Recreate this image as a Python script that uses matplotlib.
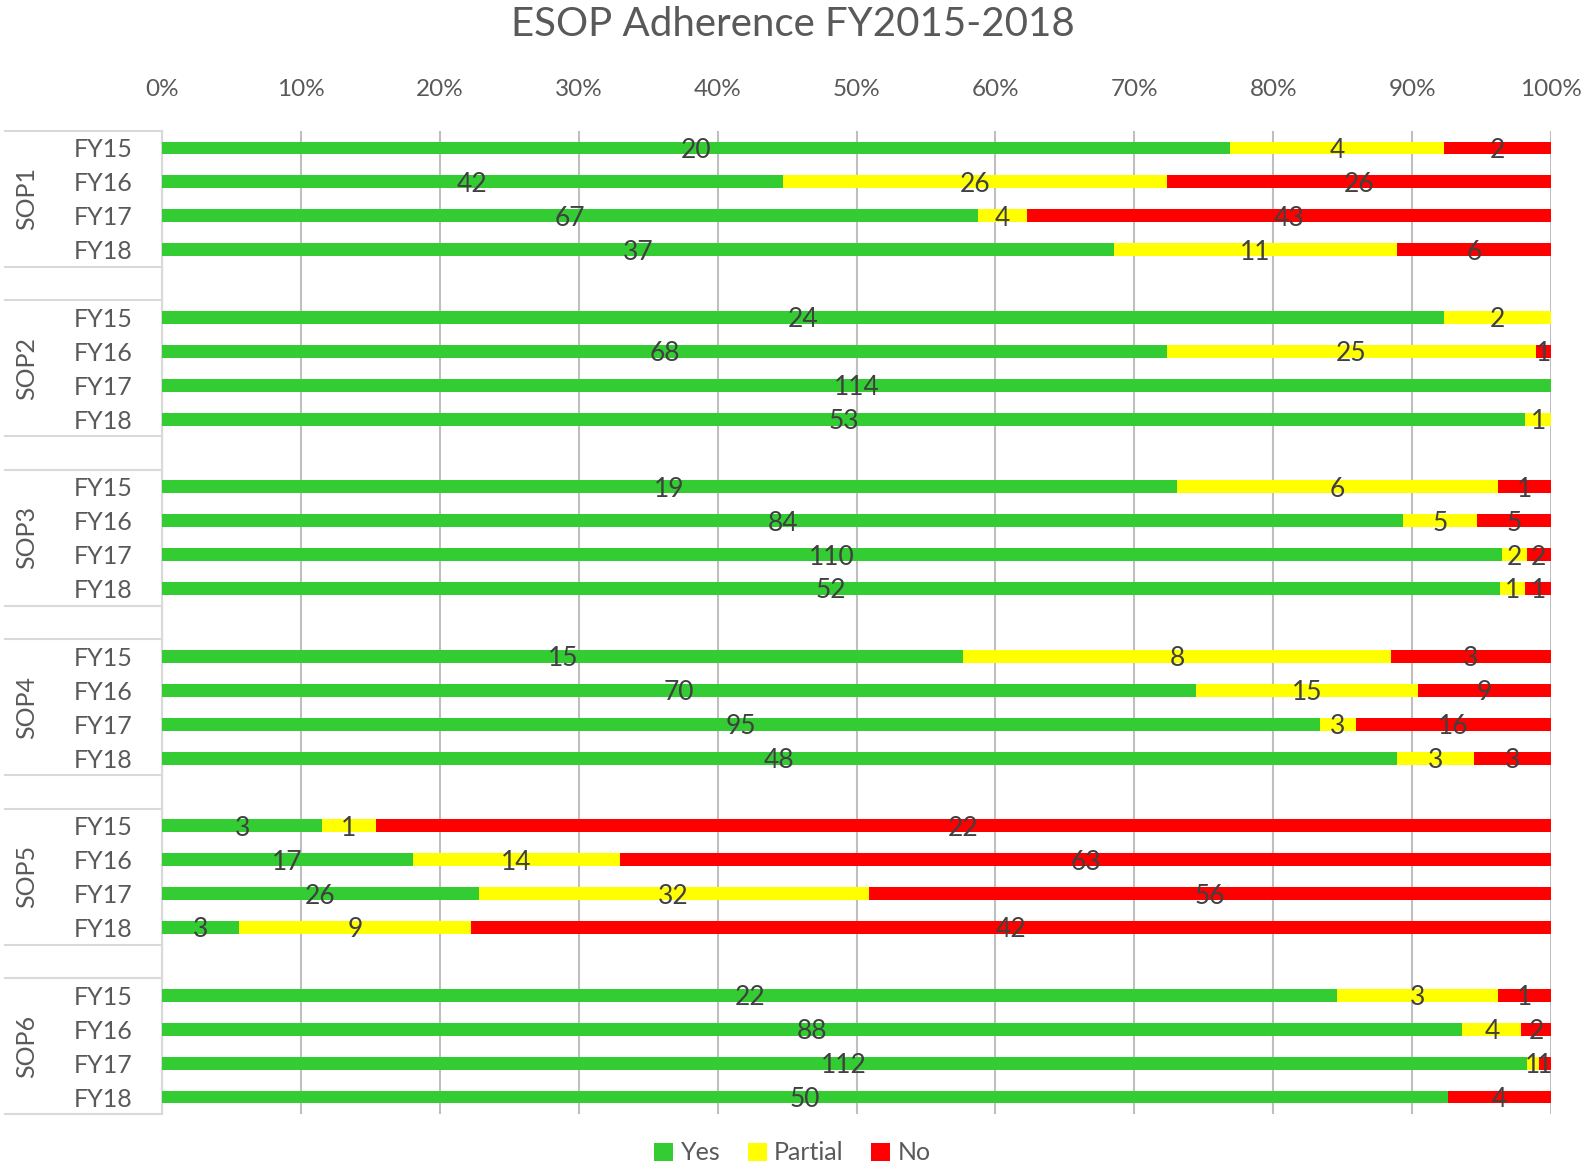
import matplotlib
matplotlib.use("Agg")
import matplotlib.pyplot as plt
from matplotlib.patches import Patch
import numpy as np

plt.rcParams['font.family'] = ['Lato', 'DejaVu Sans']

groups = ["SOP1", "SOP2", "SOP3", "SOP4", "SOP5", "SOP6"]
years = ["FY15", "FY16", "FY17", "FY18"]

# counts per group, one entry per fiscal year
yes = [
    [20, 42, 67, 37],
    [24, 68, 114, 53],
    [19, 84, 110, 52],
    [15, 70, 95, 48],
    [3, 17, 26, 3],
    [22, 88, 112, 50],
]
partial = [
    [4, 26, 4, 11],
    [2, 25, 0, 1],
    [6, 5, 2, 1],
    [8, 15, 3, 3],
    [1, 14, 32, 9],
    [3, 4, 1, 0],
]
no = [
    [2, 26, 43, 6],
    [0, 1, 0, 0],
    [1, 5, 2, 1],
    [3, 9, 16, 3],
    [22, 63, 56, 42],
    [1, 2, 1, 4],
]

series_names = ["Yes", "Partial", "No"]
colors = ["#33CC33", "#FFFF00", "#FF0000"]
text_color = "#404040"
tick_color = "#595959"

W, H = 1585, 1165
fig = plt.figure(figsize=(W / 100, H / 100), dpi=100)
ax_l, ax_r, ax_t, ax_b = 162, 1551, 131, 1114
ax = fig.add_axes([ax_l / W, 1 - ax_b / H, (ax_r - ax_l) / W, (ax_b - ax_t) / H])

slot = 5
n_slots = len(groups) * slot - 1
data = [np.array(yes, float), np.array(partial, float), np.array(no, float)]
totals = data[0] + data[1] + data[2]

bar_h = 0.38
for g in range(len(groups)):
    for r in range(len(years)):
        y = g * slot + r
        left = 0.0
        for s in range(3):
            v = data[s][g, r]
            w = v / totals[g, r]
            if v > 0:
                ax.barh(y, w, left=left, height=bar_h, color=colors[s],
                        edgecolor="none", zorder=3)
                ax.text(left + w / 2, y + 0.07, f"{int(v)}", ha="center",
                        va="center", fontsize=19, color=text_color, zorder=4)
            left += w

ax.set_xlim(0, 1)
ax.set_ylim(n_slots - 0.5, -0.5)

xt = np.linspace(0, 1, 11)
ax.set_xticks(xt)
ax.set_xticklabels([f"{int(round(v * 100))}%" for v in xt])
ax.xaxis.tick_top()
ax.tick_params(axis="x", length=0, pad=22, labelsize=17.5, labelcolor=tick_color)

ypos = [g * slot + r for g in range(len(groups)) for r in range(len(years))]
ax.set_yticks(ypos)
ax.set_yticklabels(years * len(groups))
ax.tick_params(axis="y", length=0, pad=21, labelsize=18, labelcolor=tick_color)

ax.grid(axis="x", color="#BFBFBF", linewidth=1.5, zorder=0)
for sp in ["top", "right", "bottom"]:
    ax.spines[sp].set_visible(False)
ax.spines["left"].set_color("#D9D9D9")
ax.spines["left"].set_linewidth(1.5)

# group boxes on the category axis
x0 = (5 - ax_l) / (ax_r - ax_l)
tr = ax.get_yaxis_transform()
for g, name in enumerate(groups):
    top = g * slot - 0.5
    bot = g * slot + 3.5
    for yy in (top, bot):
        ax.plot([x0, 0], [yy, yy], transform=tr, color="#D9D9D9",
                linewidth=1.5, clip_on=False)
    ax.text((27 - ax_l) / (ax_r - ax_l), g * slot + 1.5, name, transform=tr,
            rotation=90, ha="center", va="center", fontsize=18,
            color=tick_color)

fig.text(0.5, 1 - 24 / H, "ESOP Adherence FY2015-2018", ha="center",
         va="center", fontsize=29, color=tick_color)

handles = [Patch(facecolor=c, edgecolor="none") for c in colors]
fig.legend(handles, series_names, loc="center", bbox_to_anchor=(0.5, 1 - 1153 / H),
           ncol=3, frameon=False, fontsize=18, handlelength=0.75,
           handleheight=0.75, handletextpad=0.3, columnspacing=1.1,
           labelcolor=tick_color)

fig.savefig("out.png", dpi=100)
